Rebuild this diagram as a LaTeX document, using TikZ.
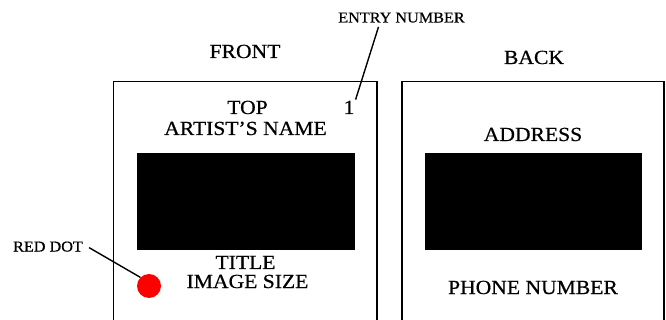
\documentclass[tikz,border=0pt]{standalone}
\usepackage{fontspec}
\setmainfont{Liberation Serif}[FakeStretch=1.08, FakeBold=0.6]
\usetikzlibrary{positioning, calc}
\definecolor{dotred}{RGB}{255,0,0}

\begin{document}
\begin{tikzpicture}[
        x=1pt, y=-1pt,
        card/.style={draw=black, line width=1.6pt},
        slide/.style={fill=black},
        big/.style={font=\fontsize{20}{22}\selectfont, inner sep=0pt, anchor=base},
        small/.style={font=\fontsize{15}{17}\selectfont, inner sep=0pt, anchor=base},
        leader/.style={draw=black, line width=1.4pt},
    ]
    \useasboundingbox (0,0) rectangle (666,320);

    % ===== Front of card =====
    \node[big] (FRONT) at (245,58) {FRONT};
    \draw[card] (113.5,340) |- (377,81.5) -- (377,340);
    \node[big] (TOP)    at (247.5,114) {TOP};
    \node[big] (ARTIST) at (245.5,135) {ARTIST'S NAME};
    \node[big] (ONE)    at (349,114) {1};
    \node[slide, minimum width=218pt, minimum height=97pt, inner sep=0pt] (IMG1) at (246,201.5) {};
    \node[big] (TITLE)  at (245.5,269) {TITLE};
    \node[big] (SIZE)   at (247.5,288) {IMAGE SIZE};
    \node[circle, fill=dotred, minimum size=24pt, inner sep=0pt] (DOT) at (149,286) {};

    % ===== Back of card =====
    \node[big] (BACK) at (534,64) {BACK};
    \draw[card] (402,340) |- (664,81.5) -- (664,340);
    \node[big] (ADDR)  at (533,141) {ADDRESS};
    \node[slide, minimum width=217pt, minimum height=97pt, inner sep=0pt] (IMG2) at (533.5,201.5) {};
    \node[big] (PHONE) at (533,294) {PHONE NUMBER};

    % ===== Callouts =====
    \node[small] (ENTRY) at (401.5,22.5) {ENTRY NUMBER};
    \node[small] (REDDOT) at (48,251.5) {RED DOT};
    \draw[leader] ($(ENTRY.south)+(-23,4)$) -- ($(ONE.north east)+(1,-1)$);
    \draw[leader] ($(REDDOT.east)+(6,1)$) -- (DOT.135);

\end{tikzpicture}
\end{document}
